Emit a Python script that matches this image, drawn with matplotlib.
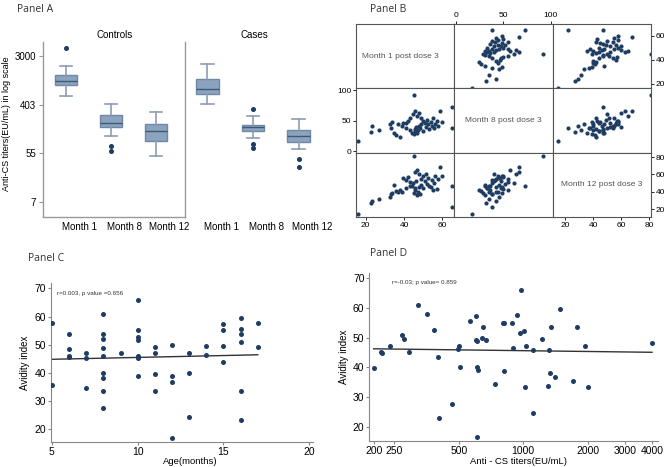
import numpy as np
import matplotlib
matplotlib.use("Agg")
import matplotlib.pyplot as plt

plt.rcParams['font.family'] = ['Liberation Sans', 'DejaVu Sans']

# ---------------- Panel A data (titers, EU/mL) ----------------
months = ["Month 1", "Month 8", "Month 12"]
groups = ["Controls", "Cases"]
ctrl_whislo = [567, 109, 49]
ctrl_q1 = [907, 158, 91]
ctrl_med = [1054, 191, 136]
ctrl_q3 = [1366, 260, 179]
ctrl_whishi = [1998, 412, 302]
ctrl_fliers = [[4188], [73, 60], []]
case_whislo = [408, 100, 64]
case_q1 = [620, 134, 87]
case_med = [757, 161, 111]
case_q3 = [1141, 176, 141]
case_whishi = [2122, 250, 224]
case_fliers = [[], [330, 78, 67], [43, 31]]
a_tick_labels = ["7", "55", "403", "3000"]

# ---------------- Panel B data (avidity at three time points) ----------------
b_names = ["Month 1 post dose 3", "Month 8 post dose 3", "Month 12 post dose 3"]
m1 = [16, 22.5, 23.5, 27, 32.5, 33, 33.5, 35, 36, 37, 38, 39, 39.5, 41, 42, 43, 44,
      44.5, 45, 45, 45.5, 46, 46, 46.5, 47, 47, 47.5, 48, 48, 48.5, 49, 49, 50, 50,
      51, 51.5, 52, 52.5, 53, 54, 54.5, 55, 55.5, 56, 57, 58, 59, 60, 65, 65, 41, 43]
m8 = [17, 32, 42, 34.5, 45, 38, 48, 30, 26, 44, 24, 42, 46, 38, 50, 35, 30,
      61, 92, 28, 36, 66, 33, 40, 57, 30, 35, 63, 42, 38, 55, 45, 50, 33,
      47, 40, 52, 44, 36, 48, 41, 55, 38, 44, 50, 42, 66, 48, 38, 73, 47, 55]
m12 = [15, 27, 29, 31.5, 33.5, 37, 39, 48, 41, 40, 42, 40, 56, 54, 57, 47, 47,
       50, 81, 39, 42, 63, 44, 52, 65, 36, 40, 60, 46, 38, 55, 48, 58, 44,
       52, 60, 49, 56, 47, 45, 54, 42, 50, 58, 43, 55, 68, 58, 22, 47, 44, 51]
b_xlims = [(14.9, 66.3), (-2, 102), (11.2, 81.2)]
b_ylims = [(16.1, 69.6), (-2, 102.8), (11, 85)]
b_ticks = [[20, 40, 60], [0, 50, 100], [20, 40, 60, 80]]

# ---------------- Panel C data ----------------
age = [5, 5, 6, 6, 6, 6, 7, 7, 7, 8, 8, 8, 8, 8, 8, 8, 8, 8, 9,
       10, 10, 10, 10, 10, 10, 10, 10, 11, 11, 11, 11, 12, 12, 12, 12,
       13, 13, 13, 14, 14, 15, 15, 15, 15, 16, 16, 16, 16, 16, 16, 17, 17]
ai_c = [57.8, 35.7, 53.8, 48.4, 46, 45.6, 47, 45.2, 34.5, 60.9, 53.7, 52.2, 49, 46,
        39.9, 38.3, 33.6, 27.7, 47.2, 65.9, 55.1, 52.9, 51.6, 46, 45.6, 45.3, 38.8,
        49.3, 47.1, 39.7, 33.5, 49.8, 39, 36.7, 16.8, 47.1, 40.1, 24.4, 49.5, 46.4,
        57.2, 55.1, 49.4, 43.8, 59.5, 55.7, 53.8, 51, 33.6, 23.2, 57.7, 49.3]
c_text = "r=0.003, p value =0.656"

# ---------------- Panel D data ----------------
titer = [200, 216, 218, 239, 271, 277, 293, 321, 354, 383, 401, 405, 465, 496, 502,
         506, 564, 599, 600, 608, 610, 614, 608, 644, 652, 668, 737, 806, 810, 813,
         888, 892, 931, 966, 976, 1008, 1019, 1034, 1108, 1113, 1224, 1309, 1324,
         1339, 1347, 1408, 1485, 1702, 1789, 1936, 2000, 4000]
ai_d = [39.7, 45.3, 45.0, 47.1, 51, 49.4, 45.3, 61, 57.9, 52.7, 43.6, 23, 27.5, 46.1,
        47.1, 40.2, 55.7, 57.2, 49.2, 49, 40.2, 39.1, 16.5, 49.8, 53.7, 49.2, 34.5,
        55.1, 55.1, 38.8, 55.1, 46.4, 57.5, 51.5, 66, 52.1, 33.5, 47.1, 24.5, 45.8,
        49.4, 33.7, 45.8, 38.2, 53.7, 36.7, 59.6, 35.5, 53.7, 47.1, 33.5, 48.3]
d_ticks = [200, 250, 500, 1000, 2000, 3000, 4000]
d_text = "r=-0.03; p value= 0.859"

W, H = 667, 467
fig = plt.figure(figsize=(W / 100, H / 100), dpi=100)

def fr(l, t, r, b):
    return [l / W, 1 - b / H, (r - l) / W, (b - t) / H]

dot = '#1f3d63'
narrow = ['Liberation Sans Narrow', 'Liberation Sans', 'DejaVu Sans']
panelfont = ['Open Sans', 'DejaVu Sans']

# ================= Panel A =================
fig.text(17 / W, 1 - 12 / H, "Panel A", fontsize=7.5, family=panelfont, color='#333')
fig.text(7 / W, 1 - 124 / H, "Anti-CS titers(EU/mL) in log scale", fontsize=6.5,
         rotation=90, ha='center', va='center')
specs = [(fr(43.3, 41.7, 185, 216.7), (0.5, 3.64), ctrl_whislo, ctrl_q1, ctrl_med, ctrl_q3, ctrl_whishi, ctrl_fliers),
         (fr(185, 41.7, 335, 216.7), (0.51, 3.8), case_whislo, case_q1, case_med, case_q3, case_whishi, case_fliers)]
for gi, (rect, xl, wl, q1, md, q3, wh, fl) in enumerate(specs):
    ax = fig.add_axes(rect)
    stats = [dict(whislo=wl[i], q1=q1[i], med=md[i], q3=q3[i], whishi=wh[i], fliers=fl[i])
             for i in range(3)]
    pos = np.arange(1, 4)
    ax.bxp(stats, positions=pos, widths=0.49, patch_artist=True, showfliers=True,
           capwidths=0.28,
           boxprops=dict(facecolor='#8ba3bd', edgecolor='#6f88a6', linewidth=1.0),
           medianprops=dict(color='#3e5878', linewidth=1.0),
           whiskerprops=dict(color='#8c9db3', linewidth=1.2),
           capprops=dict(color='#8c9db3', linewidth=1.2),
           flierprops=dict(marker='o', markersize=2.6, markerfacecolor=dot,
                           markeredgecolor=dot))
    ax.set_yscale('log')
    ax.set_ylim(np.exp(1.38), np.exp(8.59))
    ax.set_xlim(*xl)
    ax.set_xticks(pos + 0.3)
    ax.set_xticklabels(months, fontsize=7)
    ax.tick_params(axis='x', length=0, pad=4)
    ax.minorticks_off()
    ax.set_yticks(np.exp([2, 4, 6, 8]))
    for s in ['top', 'right']:
        ax.spines[s].set_visible(False)
    ax.spines['left'].set_color('#9a9a9a')
    ax.spines['left'].set_linewidth(1.0)
    ax.spines['bottom'].set_color('#9a9a9a')
    ax.spines['bottom'].set_linewidth(1.0)
    if gi == 0:
        ax.set_yticklabels(a_tick_labels, fontsize=7)
        ax.tick_params(axis='y', length=3, color='#9a9a9a', pad=2)
    else:
        ax.set_yticklabels([])
        ax.tick_params(axis='y', length=0)
        ax.spines['bottom'].set_visible(False)
    ax.text(0.5 if gi == 0 else 0.46, 1.01, groups[gi], transform=ax.transAxes,
            ha='center', va='bottom', fontsize=7)
    ax.set_facecolor('none')

# ================= Panel B =================
fig.text(370 / W, 1 - 12 / H, "Panel B", fontsize=7.5, family=panelfont, color='#333')
vars_ = [m1, m8, m12]
L, T, CW, CH = 356, 24, 98.33, 64.33
for r in range(3):
    for c in range(3):
        ax = fig.add_axes(fr(L + c * CW, T + r * CH, L + (c + 1) * CW, T + (r + 1) * CH))
        ax.set_xlim(*b_xlims[c])
        ax.set_ylim(*b_ylims[r])
        ax.set_xticks([])
        ax.set_yticks([])
        for s in ax.spines.values():
            s.set_color('#555555')
            s.set_linewidth(0.8)
        if r == c:
            xt = 0.45 if r == 0 else 0.5
            ax.text(xt, 0.5, b_names[r], transform=ax.transAxes, ha='center', va='center',
                    fontsize=6, color='#555555', family=narrow)
        else:
            ax.scatter(vars_[c], vars_[r], s=9, color=dot, linewidths=0)
        tp = dict(labelsize=6, length=2.5, width=0.6, pad=1)
        if r == 0 and c == 1:
            ax.xaxis.tick_top()
            ax.set_xticks(b_ticks[1])
            ax.tick_params(axis='x', **tp)
        if r == 1 and c == 0:
            ax.set_yticks(b_ticks[1])
            ax.tick_params(axis='y', **tp)
        if r == 2 and c in (0, 2):
            ax.set_xticks(b_ticks[c])
            ax.tick_params(axis='x', **tp)
        if c == 2 and r in (0, 2):
            ax.yaxis.tick_right()
            ax.set_yticks(b_ticks[r])
            ax.tick_params(axis='y', **tp)

# ================= Panel C =================
fig.text(28 / W, 1 - 261 / H, "Panel C", fontsize=7.5, family=panelfont, color='#333')
ax = fig.add_axes(fr(51, 283.3, 312.7, 442.3))
ax.scatter(age, ai_c, s=13, color=dot, linewidths=0, zorder=3)
k, b0 = np.polyfit(age, ai_c, 1)
xs = np.array([min(age), max(age)])
ax.plot(xs, k * xs + b0, color='#333333', lw=1.0)
ax.set_xlim(4.95, 20.2)
ax.set_ylim(15.4, 71.8)
ax.set_xticks([5, 10, 15, 20])
ax.set_yticks([20, 30, 40, 50, 60, 70])
ax.tick_params(labelsize=7.5, length=2.5, color='#888', pad=1)
for s in ['top', 'right']:
    ax.spines[s].set_visible(False)
for s in ['left', 'bottom']:
    ax.spines[s].set_color('#888')
fig.text(190 / W, 1 - 461.5 / H, "Age(months)", fontsize=6.8, ha='center', va='center')
ax.set_ylabel("Avidity index", fontsize=7, labelpad=3)
ax.text(56.7 / W, 1 - 294 / H, c_text, transform=fig.transFigure, fontsize=4.5,
        family=narrow, color='#333', va='center')

# ================= Panel D =================
fig.text(370 / W, 1 - 256 / H, "Panel D", fontsize=7.5, family=panelfont, color='#333')
ax = fig.add_axes(fr(369.3, 272.7, 658.3, 440.7))
ax.scatter(titer, ai_d, s=13, color=dot, linewidths=0, zorder=3)
lt = np.log10(titer)
k, b0 = np.polyfit(lt, ai_d, 1)
xs = np.array([lt.min(), lt.max()])
ax.plot(10 ** xs, k * xs + b0, color='#333333', lw=1.0)
ax.set_xscale('log')
ax.set_xlim(190.8, 4281)
ax.set_ylim(15.3, 71.9)
ax.minorticks_off()
ax.set_xticks(d_ticks)
ax.set_xticklabels([str(t) for t in d_ticks])
ax.set_yticks([20, 30, 40, 50, 60, 70])
ax.tick_params(labelsize=7.5, length=2.5, color='#888', pad=1)
for s in ['top', 'right']:
    ax.spines[s].set_visible(False)
for s in ['left', 'bottom']:
    ax.spines[s].set_color('#888')
fig.text(518 / W, 1 - 461.5 / H, "Anti - CS titers(EU/mL)", fontsize=6.8, ha='center',
         va='center')
ax.set_ylabel("Avidity index", fontsize=7, labelpad=3)
ax.text(391.7 / W, 1 - 282.5 / H, d_text, transform=fig.transFigure, fontsize=4.5,
        family=narrow, color='#333', va='center')

fig.savefig("out.png", dpi=100)
